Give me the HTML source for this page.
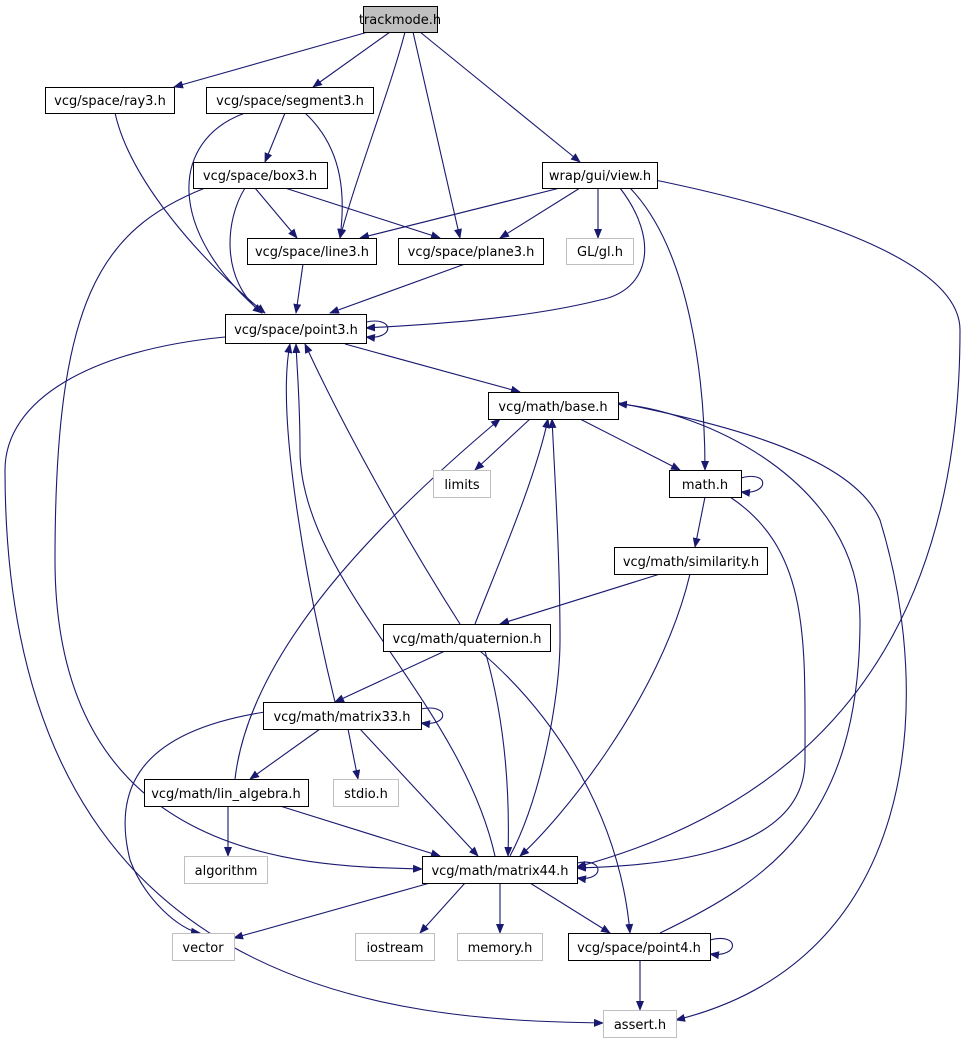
<!DOCTYPE html>
<html><head><meta charset="utf-8"><style>
html,body{margin:0;padding:0;background:#fff;}
svg{display:block;}
text{font-family:"DejaVu Sans","Liberation Sans",sans-serif;font-size:13px;fill:#000;}
</style></head><body>
<svg width="963" height="1045" viewBox="0 0 963 1045" xmlns="http://www.w3.org/2000/svg">
<defs><marker id="a" markerWidth="10" markerHeight="8" refX="9" refY="4" orient="auto" markerUnits="userSpaceOnUse"><path d="M0,0 L10,4 L0,8 z" fill="#191970"/></marker></defs>
<g fill="none" stroke="#191970" stroke-width="1.1" marker-end="url(#a)">
<path d="M368,32 L174,87"/>
<path d="M390,32 L313,87"/>
<path d="M405,32 C390,90 355,180 340,238"/>
<path d="M413,32 L460,238"/>
<path d="M420,32 L580,162"/>
<path d="M115,113 C130,180 200,260 265,313"/>
<path d="M285,113 L265,162"/>
<path d="M245,113 C170,140 165,230 262,313"/>
<path d="M305,113 C345,150 345,200 340,238"/>
<path d="M255,188 L297,238"/>
<path d="M285,188 L440,238"/>
<path d="M245,188 C225,220 220,280 262,313"/>
<path d="M205,188 C100,230 55,300 55,560 C55,870 320,866 422,869"/>
<path d="M560,188 L360,238"/>
<path d="M580,188 L500,238"/>
<path d="M598,188 L598,238"/>
<path d="M620,188 C660,240 650,290 600,300 C520,320 420,325 366,328"/>
<path d="M630,188 C690,250 705,380 705,470"/>
<path d="M655,180 C800,210 960,260 960,330 C960,700 750,820 577,867"/>
<path d="M303,264 L296,313"/>
<path d="M465,264 L330,313"/>
<path d="M366,322 C395,316 395,340 366,337"/>
<path d="M345,344 L520,392"/>
<path d="M225,337 C90,350 5,400 5,470 C5,1000 400,1020 603,1023"/>
<path d="M530,419 L475,470"/>
<path d="M580,419 L680,470"/>
<path d="M615,402 C700,420 850,450 880,520 C935,700 920,960 676,1020"/>
<path d="M741,478 C770,470 770,495 741,492"/>
<path d="M705,497 L695,547"/>
<path d="M730,497 C810,550 805,640 805,760 C805,860 640,866 577,868"/>
<path d="M660,574 L500,624"/>
<path d="M690,574 C660,700 560,820 520,856"/>
<path d="M475,624 C500,560 535,480 548,419"/>
<path d="M460,624 C400,530 340,420 305,344"/>
<path d="M445,651 L335,702"/>
<path d="M485,651 C505,720 510,790 508,856"/>
<path d="M480,651 C560,720 620,820 630,933"/>
<path d="M421,709 C450,703 450,727 421,723"/>
<path d="M335,702 C310,600 275,420 290,344"/>
<path d="M320,729 L250,779"/>
<path d="M348,729 L358,779"/>
<path d="M360,729 L478,856"/>
<path d="M265,712 C150,730 110,780 130,860 C145,900 180,930 200,933"/>
<path d="M235,779 C250,650 380,520 500,419"/>
<path d="M228,806 L228,856"/>
<path d="M280,806 L440,856"/>
<path d="M495,856 C460,700 300,580 300,450 C300,400 297,370 296,344"/>
<path d="M510,856 C540,800 560,700 560,640 C560,560 555,480 552,419"/>
<path d="M577,863 C605,857 605,882 577,878"/>
<path d="M430,883 L234,938"/>
<path d="M465,883 L420,933"/>
<path d="M500,883 L500,933"/>
<path d="M530,883 L610,933"/>
<path d="M660,933 C770,880 860,820 860,620 C860,480 700,410 618,404"/>
<path d="M710,940 C740,932 740,958 710,954"/>
<path d="M640,960 L640,1010"/>
</g>
<g stroke-width="1">
<rect x="363.5" y="6.5" width="74" height="26" fill="#bfbfbf" stroke="#000"/>
<rect x="45.5" y="87.5" width="129" height="26" fill="#fff" stroke="#000"/>
<rect x="206.5" y="87.5" width="167" height="26" fill="#fff" stroke="#000"/>
<rect x="542.5" y="162.5" width="115" height="26" fill="#fff" stroke="#000"/>
<rect x="193.5" y="162.5" width="134" height="26" fill="#fff" stroke="#000"/>
<rect x="247.5" y="238.5" width="129" height="26" fill="#fff" stroke="#000"/>
<rect x="398.5" y="238.5" width="145" height="26" fill="#fff" stroke="#000"/>
<rect x="566.5" y="238.5" width="67" height="26" fill="#fff" stroke="#bfbfbf"/>
<rect x="225.5" y="314.5" width="141" height="29" fill="#fff" stroke="#000"/>
<rect x="488.5" y="392.5" width="130" height="27" fill="#fff" stroke="#000"/>
<rect x="433.5" y="470.5" width="57" height="27" fill="#fff" stroke="#bfbfbf"/>
<rect x="669.5" y="470.5" width="72" height="27" fill="#fff" stroke="#000"/>
<rect x="614.5" y="547.5" width="153" height="27" fill="#fff" stroke="#000"/>
<rect x="383.5" y="624.5" width="167" height="27" fill="#fff" stroke="#000"/>
<rect x="263.5" y="702.5" width="158" height="27" fill="#fff" stroke="#000"/>
<rect x="144.5" y="779.5" width="164" height="27" fill="#fff" stroke="#000"/>
<rect x="333.5" y="779.5" width="65" height="27" fill="#fff" stroke="#bfbfbf"/>
<rect x="184.5" y="856.5" width="83" height="27" fill="#fff" stroke="#bfbfbf"/>
<rect x="422.5" y="856.5" width="155" height="27" fill="#fff" stroke="#000"/>
<rect x="172.5" y="933.5" width="62" height="27" fill="#fff" stroke="#bfbfbf"/>
<rect x="355.5" y="933.5" width="79" height="27" fill="#fff" stroke="#bfbfbf"/>
<rect x="457.5" y="933.5" width="85" height="27" fill="#fff" stroke="#bfbfbf"/>
<rect x="568.5" y="933.5" width="142" height="27" fill="#fff" stroke="#000"/>
<rect x="603.5" y="1010.5" width="73" height="27" fill="#fff" stroke="#bfbfbf"/>
</g>
<g text-anchor="middle">
<text x="400" y="24">trackmode.h</text>
<text x="110" y="105">vcg/space/ray3.h</text>
<text x="290" y="105">vcg/space/segment3.h</text>
<text x="600" y="180">wrap/gui/view.h</text>
<text x="260" y="180">vcg/space/box3.h</text>
<text x="312" y="256">vcg/space/line3.h</text>
<text x="471" y="256">vcg/space/plane3.h</text>
<text x="600" y="256">GL/gl.h</text>
<text x="296" y="334">vcg/space/point3.h</text>
<text x="553" y="411">vcg/math/base.h</text>
<text x="462" y="489">limits</text>
<text x="705" y="489">math.h</text>
<text x="691" y="566">vcg/math/similarity.h</text>
<text x="467" y="643">vcg/math/quaternion.h</text>
<text x="342" y="721">vcg/math/matrix33.h</text>
<text x="226" y="798">vcg/math/lin_algebra.h</text>
<text x="366" y="798">stdio.h</text>
<text x="226" y="875">algorithm</text>
<text x="500" y="875">vcg/math/matrix44.h</text>
<text x="203" y="952">vector</text>
<text x="395" y="952">iostream</text>
<text x="500" y="952">memory.h</text>
<text x="639" y="952">vcg/space/point4.h</text>
<text x="640" y="1029">assert.h</text>
</g>
</svg>
</body></html>
